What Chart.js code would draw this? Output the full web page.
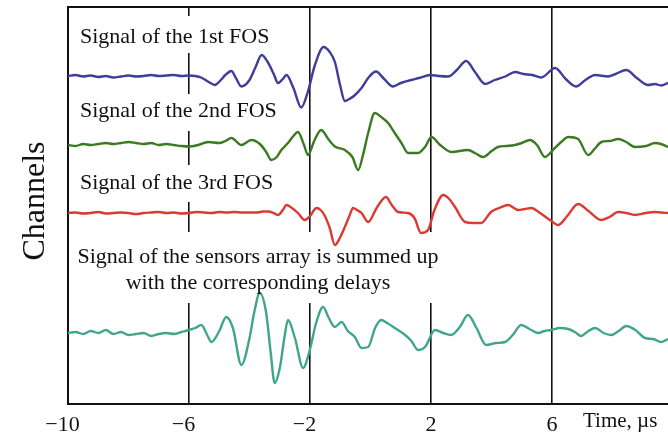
<!DOCTYPE html>
<html>
<head>
<meta charset="utf-8">
<script src="https://cdn.jsdelivr.net/npm/chart.js@4.4.1/dist/chart.umd.min.js"></script>
<style>
  html, body { margin: 0; padding: 0; background: #fff; }
</style>
</head>
<body>
<canvas id="chart" width="668" height="436"></canvas>
<script>
// x axis (time, us)
const xTicks = [-10, -6, -2, 2, 6];
const xMin = -10;
const xMax = 9.83;

// baseline of each channel on the vertical axis
const channelNames = ['1st FOS', '2nd FOS', '3rd FOS', 'Sum'];
const channelOffsets = [328, 259, 191, 71];

// channel 1 (blue)
const blueT = [
  -10, -9.75, -9.5, -9.25, -9, -8.75, -8.5, -8.25, -8, -7.75,
  -7.5, -7.25, -7, -6.75, -6.5, -6.25, -6,
  -5.8, -5.6, -5.35, -5.15, -4.95, -4.8, -4.6, -4.45, -4.27, -4.0,
  -3.8, -3.6, -3.4, -3.2, -3.06, -2.9, -2.78, -2.55, -2.29, -2.07,
  -1.84, -1.55, -1.35, -1.18, -1.0, -0.85, -0.7, -0.55, -0.3, -0.08,
  0.18, 0.45, 0.74, 1.0, 1.34, 1.6, 1.97, 2.25, 2.56, 2.85,
  3.16, 3.45, 3.79, 4.1, 4.45, 4.78, 5.05, 5.35, 5.64, 6.1,
  6.45, 6.79, 7.1, 7.42, 7.85, 8.1, 8.45, 8.8, 9.17, 9.4,
  9.6, 9.83
];
const blueV = [
  0, 1, -0.5, 0.5, -1, 0, -1.5, -0.5, 0.5, -0.5,
  0, 1, 0, 0.5, 1, 0, 0.5,
  0, -1.5, -6, -9, -4, 1, 5, -2, -10.5, -4,
  9, 21, 14, 2, -7, -3, 1, -12, -31.5, -15.5,
  11, 29, 24, 14, -10, -25, -23, -20, -12, -2,
  4.5, -3, -10.5, -7, -4, -2, 1, 0, -0.5, 6,
  15, 4, -8, -4, -0.5, 4, 2, 1, -1.5, 8,
  -3, -10.5, -4, 1, -0.5, 2, 6, -2, -9, -8,
  -9.5, -7
];

// channel 2 (green)
const greenT = [
  -10, -9.75, -9.5, -9.25, -9, -8.75, -8.5, -8.25, -8, -7.75,
  -7.5, -7.25, -7, -6.75, -6.5, -6.25, -6,
  -5.7, -5.37, -5.0, -4.8, -4.6, -4.27, -3.94, -3.66, -3.45, -3.28,
  -3.1, -2.95, -2.73, -2.55, -2.4, -2.2, -2.07, -1.85, -1.63, -1.4,
  -1.18, -0.85, -0.6, -0.41, -0.25, -0.08, 0.14, 0.35, 0.58, 0.8,
  1.02, 1.24, 1.57, 1.8, 2.01, 2.3, 2.67, 3.22, 3.45, 3.72,
  4.0, 4.21, 4.5, 4.77, 5.0, 5.26, 5.5, 5.76, 6.09, 6.3,
  6.53, 6.86, 7.19, 7.4, 7.63, 7.9, 8.18, 8.45, 8.73, 9.1,
  9.4, 9.6, 9.83
];
const greenV = [
  0, -1, 1, 0, 1, 2, 1, 2, 3, 2,
  1, 2, 0, 1, 0, -1, -1.5,
  0, 3, 2, 4, 7, 0, 5, 1, -7, -15,
  -12, -5, 2, 9, 13, 0, -10, 5, 15, 6,
  -1.5, -5, -12, -25, -10, 12, 32, 28, 22, 12,
  2, -8, -8, -2, 8, 0, -7, -5, -8, -12,
  -6, -2, -1, 0, 2, 5, 0, -12, -3, 3,
  8, 6, -10, -4, 3, 4, 6, 3, -2, -1,
  2, 1, -2
];

// channel 3 (red)
const redT = [
  -10, -9.75, -9.5, -9.25, -9, -8.75, -8.5, -8.25, -8, -7.75,
  -7.5, -7.25, -7, -6.75, -6.5, -6.25, -6, -5.75, -5.5, -5.25,
  -5, -4.75, -4.5, -4.25, -4,
  -3.75, -3.55, -3.39, -3.2, -3.06, -2.9, -2.78, -2.6, -2.4, -2.18,
  -2.0, -1.79, -1.65, -1.51, -1.35, -1.18, -1.0, -0.85, -0.7, -0.58,
  -0.45, -0.3, -0.08, 0.2, 0.51, 0.7, 0.91, 1.24, 1.45, 1.67,
  1.9, 2.1, 2.4, 2.6, 2.79, 3.12, 3.4, 3.65, 3.98, 4.25,
  4.55, 4.88, 5.1, 5.31, 5.6, 5.93, 6.2, 6.5, 6.86, 7.2,
  7.62, 7.9, 8.18, 8.45, 8.74, 9.1, 9.4, 9.6, 9.83
];
const redV = [
  0, 0.5, -0.5, 0, 1, -0.5, 0, 0.5, 0, -1,
  0, 0.5, 1, 0, 0.5, -0.5, 0, 1, 0.5, 0,
  1, 0.5, 1, 0.5, 0.5,
  0.5, 1.5, 1.5, 0, -2, 3, 8, 5, 0, -7,
  -3, 5, 3, -3, -15, -32, -24, -14, -3, 5,
  3, 0, -9, 5, 16, 8, 1, 0, -5, -20,
  -17, 2, 18, 14, 6, -9, -10, -10, 1, 5,
  8, 3, 4, 5, 0, -7, -12, -3, 9, 2,
  -7, -4, 1, 0, -2, 0, 1, 0.5, 0
];

// summed signal (teal)
const sumT = [
  -10, -9.75, -9.5, -9.25, -9, -8.75, -8.5, -8.25, -8, -7.75,
  -7.5, -7.25, -7, -6.75, -6.5, -6.25, -6,
  -5.8, -5.59, -5.4, -5.26, -5.0, -4.77, -4.55, -4.27, -4.0, -3.85,
  -3.66, -3.45, -3.3, -3.17, -3.0, -2.85, -2.73, -2.5, -2.23, -2.01,
  -1.8, -1.57, -1.38, -1.18, -0.96, -0.75, -0.52, -0.3, -0.08, 0.15,
  0.35, 0.55, 0.8, 1.14, 1.35, 1.57, 1.8, 2.13, 2.4, 2.66,
  2.95, 3.22, 3.5, 3.82, 4.15, 4.45, 4.7, 4.98, 5.25, 5.54,
  5.75, 5.97, 6.25, 6.53, 6.75, 6.96, 7.2, 7.42, 7.7, 7.95,
  8.2, 8.45, 8.75, 9.07, 9.35, 9.6, 9.83
];
const sumV = [
  0, 1, -1, 2, 0, 3, -1, 1, -2, -1,
  0, -3, -1, 0, -1, 1, 3,
  5, 8, -2, -9, 2, 16, 5, -32, -5, 20,
  40, 20, -20, -50, -35, -5, 13, -5, -35, -17,
  10, 26, 15, 6, 11, 2, -4, -15, -14, 5,
  13, 10, 5, -2, -8, -17, -14, 3, 0, -2,
  6, 18, 5, -12, -10, -9, -2, 8, 4, 0,
  2, 3, 5, 4, 1, -3, 2, 5, 0, -2,
  2, 7, 3, -5, -6, -9, -6
];

const serif = "'Liberation Serif', 'Times New Roman', serif";

const seriesT = [blueT, greenT, redT, sumT];
const seriesV = [blueV, greenV, redV, sumV];
const colors = ['#3f3d98', '#3b7a22', '#db3a34', '#3fa68b'];

const datasets = seriesT.map((ts, i) => ({
  label: channelNames[i],
  data: ts.map((t, k) => ({ x: t, y: channelOffsets[i] + seriesV[i][k] })),
  borderColor: colors[i],
  borderWidth: 2.4,
  pointRadius: 0,
  cubicInterpolationMode: 'monotone',
  fill: false
}));

// annotation text blocks (pixel boxes hide the vertical lines behind text)
const notes = [
  { lines: ['Signal of the 1st FOS'], x: 80, y: 43, align: 'left', box: [70, 16, 285, 53] },
  { lines: ['Signal of the 2nd FOS'], x: 80, y: 117, align: 'left', box: [70, 94, 285, 131] },
  { lines: ['Signal of the 3rd FOS'], x: 80, y: 189, align: 'left', box: [70, 165, 285, 202] },
  { lines: ['Signal of the sensors array is summed up', 'with the corresponding delays'],
    x: 258, y: 263, align: 'center', box: [70, 232, 446, 303] }
];

const framePlugin = {
  id: 'frame',
  beforeDatasetsDraw(chart) {
    const { ctx, chartArea: a } = chart;
    ctx.save();
    ctx.fillStyle = '#fff';
    notes.forEach(n => {
      const [x1, y1, x2, y2] = n.box;
      ctx.fillRect(x1, y1, x2 - x1, y2 - y1);
    });
    ctx.strokeStyle = '#111';
    ctx.lineWidth = 2;
    ctx.beginPath();
    ctx.moveTo(a.left, a.bottom);
    ctx.lineTo(a.left, a.top);
    ctx.lineTo(a.right, a.top);
    ctx.stroke();
    ctx.restore();
  },
  afterDatasetsDraw(chart) {
    const { ctx } = chart;
    ctx.save();
    ctx.fillStyle = '#111';
    ctx.textBaseline = 'alphabetic';
    ctx.font = '22px ' + serif;
    notes.forEach(n => {
      ctx.textAlign = n.align;
      n.lines.forEach((s, i) => ctx.fillText(s, n.x, n.y + i * 26));
    });
    ctx.textAlign = 'left';
    ctx.font = '21px ' + serif;
    ctx.fillText('Time, µs', 583, 427);
    ctx.translate(44, 201);
    ctx.rotate(-Math.PI / 2);
    ctx.textAlign = 'center';
    ctx.font = '32px ' + serif;
    ctx.fillText('Channels', 0, 0);
    ctx.restore();
  }
};

new Chart(document.getElementById('chart'), {
  type: 'line',
  data: { datasets },
  options: {
    responsive: false,
    animation: false,
    devicePixelRatio: 1,
    layout: { padding: { left: 68, top: 7, right: 0, bottom: 0 } },
    plugins: { legend: { display: false }, tooltip: { enabled: false } },
    scales: {
      x: {
        type: 'linear',
        min: xMin,
        max: xMax,
        afterBuildTicks: s => { s.ticks = xTicks.map(v => ({ value: v })); },
        afterFit: s => { s.height = 32; },
        grid: {
          color: c => (c.tick && c.tick.value === xMin ? 'rgba(0,0,0,0)' : '#111'),
          lineWidth: 1.6,
          drawTicks: false
        },
        border: { display: true, color: '#111', width: 2 },
        ticks: {
          color: '#111',
          padding: 8,
          font: { family: serif, size: 22 },
          // digits sit on the tick, the minus sign hangs to the left
          callback: v => (v < 0 ? '\u2212' + Math.abs(v) + '\u2002' : String(v))
        }
      },
      y: {
        display: false,
        min: 0,
        max: 397
      }
    }
  },
  plugins: [framePlugin]
});
</script>
</body>
</html>
